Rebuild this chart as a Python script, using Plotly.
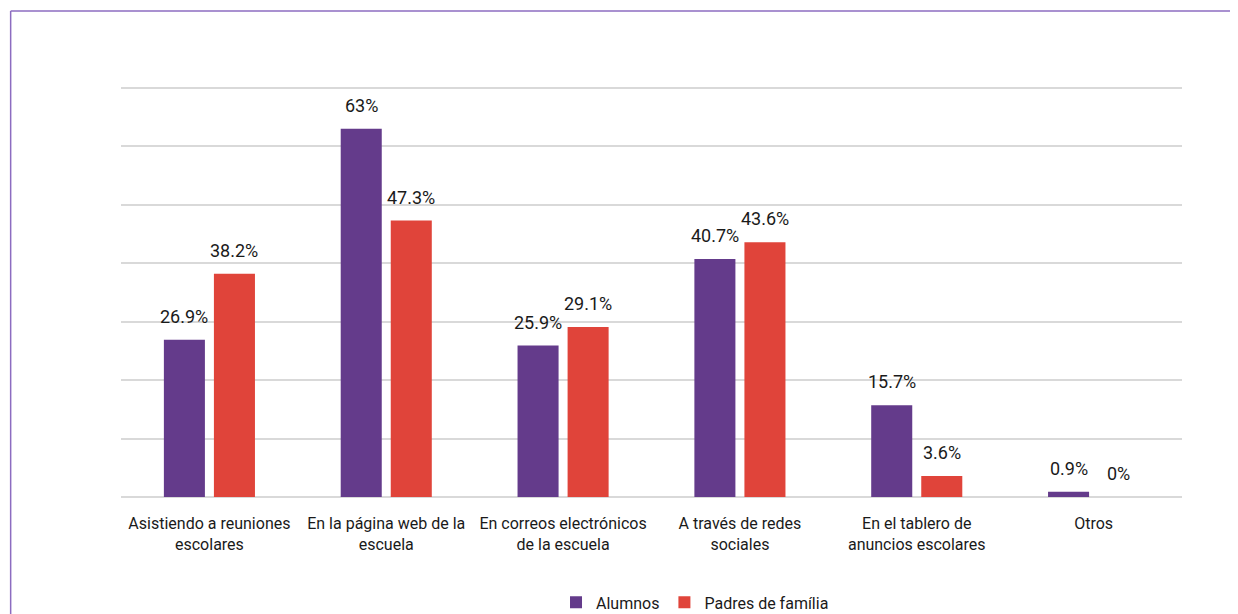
import plotly.graph_objects as go

# Datos
categorias = [
    "Asistiendo a reuniones<br>escolares",
    "En la página web de la<br>escuela",
    "En correos electrónicos<br>de la escuela",
    "A través de redes<br>sociales",
    "En el tablero de<br>anuncios escolares",
    "Otros",
]
alumnos = [26.9, 63, 25.9, 40.7, 15.7, 0.9]
padres = [38.2, 47.3, 29.1, 43.6, 3.6, 0]
series = [("Alumnos", alumnos, "#643b8b"), ("Padres de família", padres, "#e0443a")]
marcas_y = [0, 10, 20, 30, 40, 50, 60, 70]

FUENTE = "Roboto, Open Sans, sans-serif"
TEXTO = "#1a1a1a"

# geometria (la pagina tiene 8px de margen en el body)
W, H = 1230, 606
M = dict(l=113, r=56, t=74, b=117, autoexpand=False)
BARGAP, GROUPGAP = 0.434, 0.18
ancho_cat = (W - M["l"] - M["r"]) / len(categorias)
ranura = ancho_cat * (1 - BARGAP) / len(series)

fig = go.Figure()
anotaciones = []
for i, (nombre, valores, color) in enumerate(series):
    fig.add_trace(go.Bar(
        x=categorias, y=valores, name=nombre,
        marker=dict(color=color, line=dict(width=0)),
    ))
    desplaz = (i - (len(series) - 1) / 2) * ranura
    for cat, v in zip(categorias, valores):
        anotaciones.append(dict(
            x=cat, y=v, text=f"{v:g}%", showarrow=False,
            xanchor="center", yanchor="bottom", xshift=desplaz, yshift=11,
            font=dict(size=18, color=TEXTO),
        ))

fig.update_layout(
    width=W, height=H, margin=M,
    paper_bgcolor="white", plot_bgcolor="white",
    font=dict(family=FUENTE, size=16, color=TEXTO),
    barmode="group", bargap=BARGAP, bargroupgap=GROUPGAP,
    showlegend=True,
    legend=dict(
        orientation="h", x=0.41, xanchor="left", y=-0.254, yanchor="middle",
        font=dict(size=16, color=TEXTO), itemwidth=30,
    ),
    xaxis=dict(showgrid=False, showline=False, ticks="",
               tickfont=dict(size=16), ticklabelstandoff=15),
    yaxis=dict(
        range=[0, 71], tickvals=marcas_y, showticklabels=False,
        showgrid=True, gridcolor="#d9d9d9", gridwidth=1.5,
        zeroline=True, zerolinecolor="#d9d9d9", zerolinewidth=1.5,
    ),
    annotations=anotaciones,
    shapes=[
        # marco morado (borde superior e izquierdo)
        dict(type="line", xref="paper", yref="paper",
             x0=-0.104, x1=1.2, y0=1.171, y1=1.171,
             line=dict(color="#8c6cc0", width=1.5)),
        dict(type="line", xref="paper", yref="paper",
             x0=-0.104, x1=-0.104, y0=1.171, y1=-0.4,
             line=dict(color="#8c6cc0", width=1.5)),
    ],
)

fig.write_html("out.html")
